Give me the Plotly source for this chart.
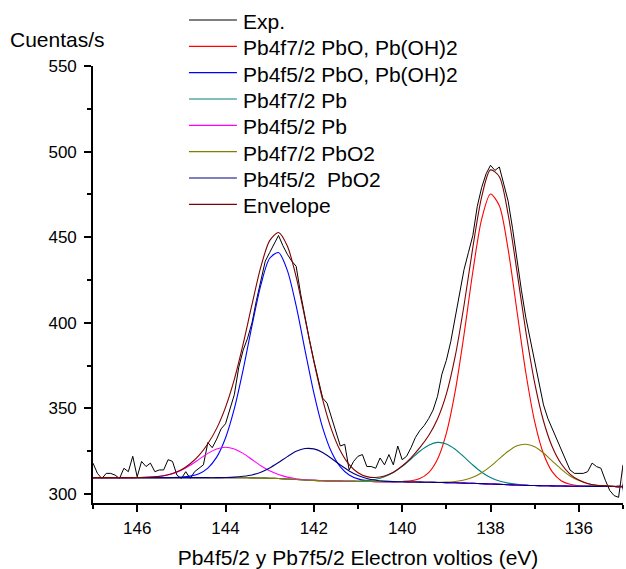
import plotly.graph_objects as go

# binding energy of the measured spectrum (eV, 0.1 eV step)
energy_exp = [
    147.0, 146.9, 146.8, 146.7, 146.6, 146.5, 146.4, 146.3, 146.2, 146.1,
    146.0, 145.9, 145.8, 145.7, 145.6, 145.5, 145.4, 145.3, 145.2, 145.1,
    145.0, 144.9, 144.8, 144.7, 144.6, 144.5, 144.4, 144.3, 144.2, 144.1,
    144.0, 143.9, 143.8, 143.7, 143.6, 143.5, 143.4, 143.3, 143.2, 143.1,
    143.0, 142.9, 142.8, 142.7, 142.6, 142.5, 142.4, 142.3, 142.2, 142.1,
    142.0, 141.9, 141.8, 141.7, 141.6, 141.5, 141.4, 141.3, 141.2, 141.1,
    141.0, 140.9, 140.8, 140.7, 140.6, 140.5, 140.4, 140.3, 140.2, 140.1,
    140.0, 139.9, 139.8, 139.7, 139.6, 139.5, 139.4, 139.3, 139.2, 139.1,
    139.0, 138.9, 138.8, 138.7, 138.6, 138.5, 138.4, 138.3, 138.2, 138.1,
    138.0, 137.9, 137.8, 137.7, 137.6, 137.5, 137.4, 137.3, 137.2, 137.1,
    137.0, 136.9, 136.8, 136.7, 136.6, 136.5, 136.4, 136.3, 136.2, 136.1,
    136.0, 135.9, 135.8, 135.7, 135.6, 135.5, 135.4, 135.3, 135.2, 135.1,
    135.0,
]
counts_exp = [
    318, 312, 309, 312, 312, 311, 309, 315, 313, 322,
    310, 319, 316, 318, 313, 314, 314, 320, 319, 311,
    309, 313, 309, 313, 315, 317, 330, 327, 332, 338,
    341, 349, 358, 374, 384, 391, 400, 413, 424, 436,
    441, 446, 451, 445, 440, 436, 433, 417, 403, 390,
    378, 366, 356, 353, 345, 336, 328, 329, 314, 319,
    322, 323, 316, 316, 315, 321, 317, 323, 317, 328,
    320, 322, 327, 333, 337, 340, 344, 349, 357, 370,
    378, 389, 403, 418, 431, 441, 451, 468, 479, 487,
    492, 489, 491, 481, 471, 455, 436, 419, 403, 390,
    376, 363, 352, 344, 338, 331, 325, 320, 314, 312,
    312, 312, 313, 318, 316, 315, 308, 302, 299, 298,
    317,
]

# energy grid of the fitted components
energy_fit = [
    147.0, 146.8, 146.6, 146.4, 146.2, 146.0, 145.8, 145.6, 145.4, 145.2,
    145.0, 144.8, 144.6, 144.4, 144.2, 144.0, 143.8, 143.6, 143.4, 143.2,
    143.0, 142.8, 142.6, 142.4, 142.2, 142.0, 141.8, 141.6, 141.4, 141.2,
    141.0, 140.8, 140.6, 140.4, 140.2, 140.0, 139.8, 139.6, 139.4, 139.2,
    139.0, 138.8, 138.6, 138.4, 138.2, 138.0, 137.8, 137.6, 137.4, 137.2,
    137.0, 136.8, 136.6, 136.4, 136.2, 136.0, 135.8, 135.6, 135.4, 135.2,
    135.02, 135.0,
]
pb4f72_pbo = [
    309.5, 309.5, 309.5, 309.5, 309.5, 309.5, 309.5, 309.5, 309.5, 309.5,
    309.5, 309.5, 309.5, 309.5, 309.5, 309.5, 309.5, 309.5, 309.4, 309.3,
    309.2, 309.0, 308.7, 308.4, 308.1, 307.9, 307.7, 307.6, 307.5, 307.4,
    307.3, 307.3, 307.2, 307.2, 307.1, 307.3, 307.7, 309.0, 312.5, 320.3,
    335.4, 359.9, 393.0, 429.8, 460.5, 475.2, 468.4, 442.7, 406.7, 370.8,
    342.3, 323.5, 312.9, 307.7, 305.6, 304.8, 304.5, 304.4, 304.4, 304.3,
    304.3, 304.3,
]
pb4f52_pbo = [
    309.5, 309.5, 309.5, 309.5, 309.5, 309.5, 309.5, 309.5, 309.5, 309.6,
    309.8, 310.4, 311.8, 315.1, 321.5, 332.7, 349.8, 372.6, 398.3, 422.0,
    437.7, 441.0, 430.6, 409.8, 384.0, 359.0, 338.6, 324.5, 315.8, 311.1,
    308.8, 307.8, 307.4, 307.2, 307.1, 307.1, 307.0, 306.9, 306.8, 306.7,
    306.6, 306.5, 306.3, 306.2, 306.0, 305.8, 305.6, 305.4, 305.2, 305.0,
    304.9, 304.8, 304.7, 304.6, 304.5, 304.5, 304.4, 304.4, 304.4, 304.3,
    304.3, 304.3,
]
pb4f72_pb = [
    309.5, 309.5, 309.5, 309.5, 309.5, 309.5, 309.5, 309.5, 309.5, 309.5,
    309.5, 309.5, 309.5, 309.5, 309.5, 309.5, 309.5, 309.5, 309.4, 309.3,
    309.2, 309.0, 308.7, 308.4, 308.1, 307.9, 307.7, 307.6, 307.5, 307.5,
    307.5, 307.9, 308.6, 310.1, 312.5, 316.1, 320.4, 324.9, 328.4, 330.1,
    329.2, 326.1, 321.6, 316.9, 312.7, 309.6, 307.5, 306.3, 305.6, 305.1,
    304.9, 304.8, 304.7, 304.6, 304.5, 304.5, 304.4, 304.4, 304.4, 304.3,
    304.3, 304.3,
]
pb4f52_pb = [
    309.5, 309.5, 309.5, 309.5, 309.5, 309.6, 309.7, 310.0, 310.6, 311.8,
    313.8, 316.7, 320.2, 323.7, 326.3, 327.3, 326.3, 323.7, 320.1, 316.5,
    313.5, 311.3, 309.8, 308.9, 308.3, 308.0, 307.7, 307.6, 307.5, 307.4,
    307.3, 307.3, 307.2, 307.2, 307.1, 307.1, 307.0, 306.9, 306.8, 306.7,
    306.6, 306.5, 306.3, 306.2, 306.0, 305.8, 305.6, 305.4, 305.2, 305.0,
    304.9, 304.8, 304.7, 304.6, 304.5, 304.5, 304.4, 304.4, 304.4, 304.3,
    304.3, 304.3,
]
pb4f72_pbo2 = [
    309.5, 309.5, 309.5, 309.5, 309.5, 309.5, 309.5, 309.5, 309.5, 309.5,
    309.5, 309.5, 309.5, 309.5, 309.5, 309.5, 309.5, 309.5, 309.4, 309.3,
    309.2, 309.0, 308.7, 308.4, 308.1, 307.9, 307.7, 307.6, 307.5, 307.4,
    307.3, 307.3, 307.2, 307.2, 307.1, 307.1, 307.0, 306.9, 306.8, 306.8,
    306.9, 307.3, 308.1, 309.7, 312.4, 316.1, 320.6, 324.9, 328.1, 329.0,
    327.5, 323.9, 319.2, 314.5, 310.5, 307.8, 306.0, 305.1, 304.7, 304.4,
    304.3, 304.3,
]
pb4f52_pbo2 = [
    309.5, 309.5, 309.5, 309.5, 309.5, 309.5, 309.5, 309.5, 309.5, 309.5,
    309.5, 309.5, 309.5, 309.5, 309.5, 309.6, 309.8, 310.3, 311.1, 312.7,
    315.2, 318.4, 321.8, 324.9, 326.5, 326.3, 324.2, 320.7, 316.9, 313.4,
    310.7, 309.0, 308.0, 307.5, 307.2, 307.1, 307.0, 306.9, 306.8, 306.7,
    306.6, 306.5, 306.3, 306.2, 306.0, 305.8, 305.6, 305.4, 305.2, 305.0,
    304.9, 304.8, 304.7, 304.6, 304.5, 304.5, 304.4, 304.4, 304.4, 304.3,
    304.3, 290.0,
]
envelope = [
    309.5, 309.5, 309.5, 309.5, 309.5, 309.6, 309.7, 310.0, 310.6, 311.9,
    314.1, 317.6, 322.5, 329.3, 338.3, 350.6, 366.9, 387.6, 410.7, 432.6,
    448.0, 452.7, 444.8, 426.8, 402.6, 377.5, 355.1, 337.6, 325.2, 317.1,
    312.4, 310.1, 309.6, 310.5, 312.7, 316.3, 321.1, 327.0, 334.1, 343.8,
    358.3, 380.3, 410.1, 444.0, 473.6, 489.3, 485.3, 463.1, 429.9, 394.9,
    364.9, 342.6, 327.4, 317.6, 311.6, 308.1, 306.1, 305.1, 304.7, 304.4,
    304.3, 316.0,
]

fits = [
    ("Pb4f7/2 PbO, Pb(OH)2", pb4f72_pbo, "#ff0000"),
    ("Pb4f5/2 PbO, Pb(OH)2", pb4f52_pbo, "#0000ff"),
    ("Pb4f7/2 Pb", pb4f72_pb, "#008080"),
    ("Pb4f5/2 Pb", pb4f52_pb, "#ff00ff"),
    ("Pb4f7/2 PbO2", pb4f72_pbo2, "#808000"),
    ("Pb4f5/2&nbsp; PbO2", pb4f52_pbo2, "#000080"),
    ("Envelope", envelope, "#800000"),
]

font_family = "Arial, Liberation Sans, sans-serif"

fig = go.Figure()
fig.add_trace(go.Scatter(x=energy_exp, y=counts_exp, mode="lines", name="Exp.",
                         line=dict(color="black", width=1), showlegend=False))
for name, vals, color in fits:
    fig.add_trace(go.Scatter(x=energy_fit, y=vals, mode="lines", name=name, showlegend=False,
                             line=dict(color=color, width=1.1, shape="spline", smoothing=0.8)))

axis_style = dict(
    showline=True, linecolor="black", linewidth=1.6,
    ticks="outside", ticklen=7, tickwidth=1.6, tickcolor="black",
    showgrid=False, zeroline=False, automargin=False,
    tickfont=dict(family=font_family, size=17, color="black"),
)
fig.update_xaxes(range=[147, 135], tick0=136, dtick=2, ticklabelstandoff=2,
                 minor=dict(ticks="outside", ticklen=4, tickwidth=1.6, tickcolor="black",
                            dtick=1, tick0=135, showgrid=False),
                 title=dict(text="Pb4f5/2 y Pb7f5/2 Electron voltios (eV)",
                            font=dict(family=font_family, size=21, color="black"), standoff=15),
                 **axis_style)
fig.update_yaxes(range=[294.7, 550], tick0=300, dtick=50, ticklabelstandoff=4,
                 minor=dict(ticks="outside", ticklen=4, tickwidth=1.6, tickcolor="black",
                            dtick=25, tick0=300, showgrid=False),
                 **axis_style)

fig.add_annotation(text="Cuentas/s", xref="paper", yref="paper", x=-0.161, y=1.06,
                   xanchor="left", yanchor="middle", showarrow=False,
                   font=dict(family=font_family, size=21, color="black"))

# legend drawn by hand so that its rows keep the original spacing
legend_items = [("Exp.", "black")] + [(name, color) for name, _, color in fits]
for i, (name, color) in enumerate(legend_items):
    row_y = (503 - (20 + 26.33 * i)) / 437
    fig.add_shape(type="line", xref="paper", yref="paper",
                  x0=(189 - 93) / 530.3, x1=(237 - 93) / 530.3, y0=row_y, y1=row_y,
                  line=dict(color=color, width=1.2))
    fig.add_annotation(text=name, xref="paper", yref="paper", x=(241 - 93) / 530.3,
                       y=row_y - 1.5 / 437, xanchor="left", yanchor="middle", showarrow=False,
                       font=dict(family=font_family, size=21, color="black"))

fig.update_layout(
    width=626, height=569,
    margin=dict(l=93, r=3, t=66, b=66),
    paper_bgcolor="white", plot_bgcolor="white",
    font=dict(family=font_family, color="black"),
    showlegend=False,
)

fig.write_html("out.html", config={"displayModeBar": False},
               post_script="document.body.style.margin='0';")
